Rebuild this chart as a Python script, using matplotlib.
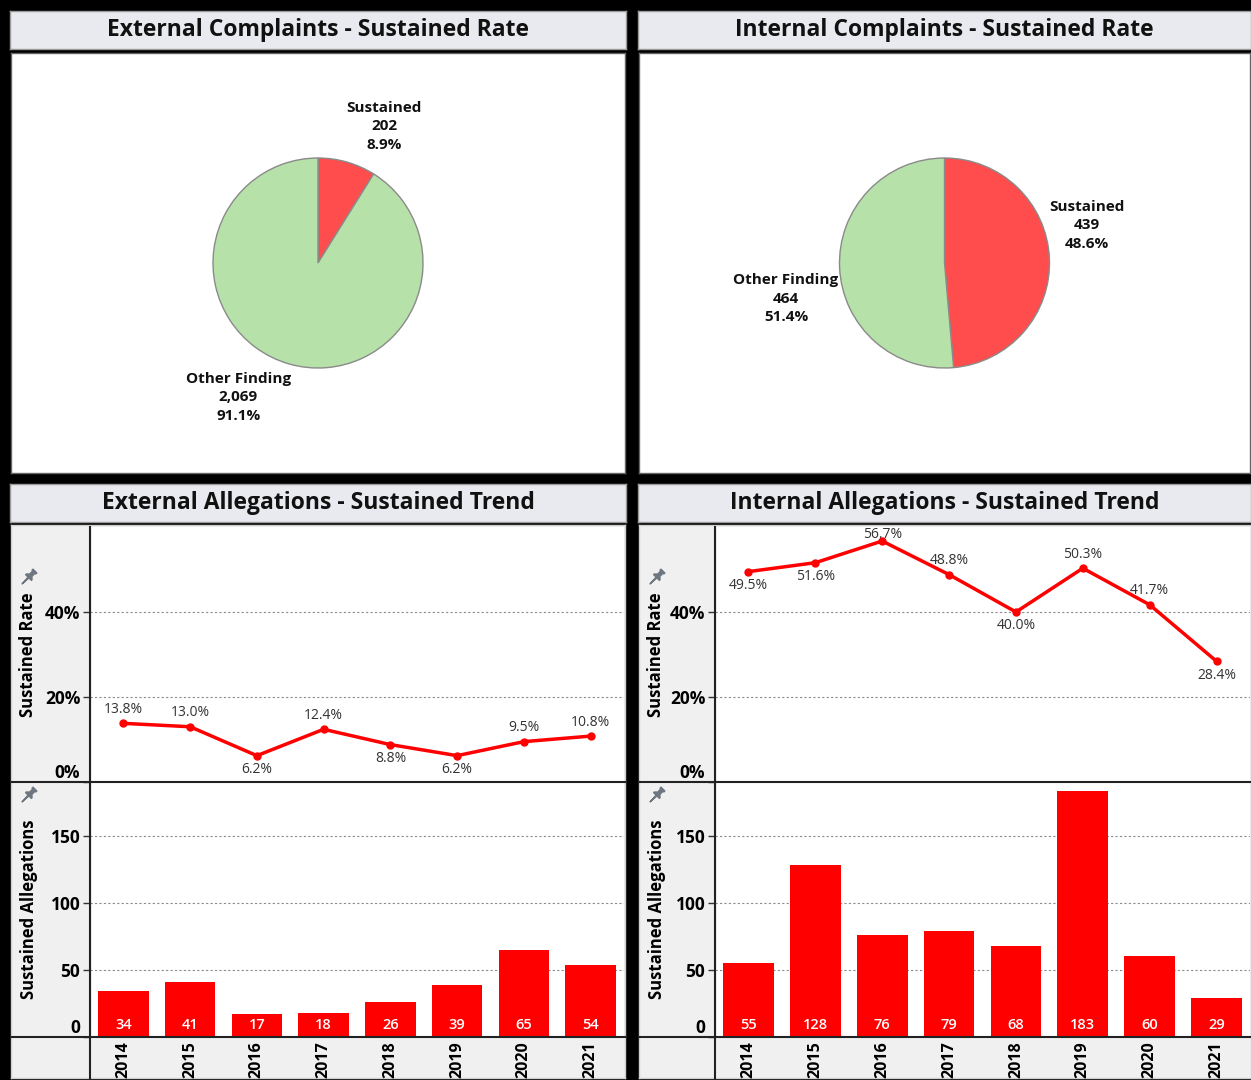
import numpy as np
import matplotlib
matplotlib.use("Agg")
import matplotlib.pyplot as plt
from matplotlib.path import Path
from matplotlib.transforms import Affine2D
from matplotlib.lines import Line2D

plt.rcParams['font.family'] = ['Open Sans', 'DejaVu Sans']

# ---- data ----
years = ['2014', '2015', '2016', '2017', '2018', '2019', '2020', '2021']

ext_rate     = [13.8, 13.0, 6.2, 12.4, 8.8, 6.2, 9.5, 10.8]
ext_rate_pos = ['above', 'above', 'below', 'above', 'below', 'below', 'above', 'above']
ext_count    = [34, 41, 17, 18, 26, 39, 65, 54]

int_rate     = [49.5, 51.6, 56.7, 48.8, 40.0, 50.3, 41.7, 28.4]
int_rate_pos = ['below', 'below', 'above', 'above', 'below', 'above', 'above', 'below']
int_count    = [55, 128, 76, 79, 68, 183, 60, 29]

pie_names  = ['Sustained', 'Other Finding']
ext_pie    = [202, 2069]
int_pie    = [439, 464]

RED   = '#ff0000'
PRED  = '#ff4c4c'
PGRN  = '#b6e1a9'
GRAY  = '#f0f0f0'
TBAR  = '#e9eaef'

W, H = 1251, 1080
fig = plt.figure(figsize=(W / 100, H / 100), dpi=100, facecolor='black')


def px_axes(x0, y0, x1, y1):
    # axes placed by pixel box, y measured from the top
    return fig.add_axes([x0 / W, 1 - y1 / H, (x1 - x0) / W, (y1 - y0) / H])


def bare(ax, edge='#9a9a9a'):
    ax.set_xticks([])
    ax.set_yticks([])
    for s in ax.spines.values():
        s.set_color(edge)
        s.set_linewidth(1)


def hline(x0, x1, y, color='#222222', lw=1.5):
    fig.add_artist(Line2D([x0 / W, x1 / W], [1 - y / H] * 2,
                          transform=fig.transFigure, color=color, lw=lw))


def vline(x, y0, y1, color='#222222', lw=1.5):
    fig.add_artist(Line2D([x / W] * 2, [1 - y0 / H, 1 - y1 / H],
                          transform=fig.transFigure, color=color, lw=lw))


def title_bar(x0, x1, y0, y1, text):
    ax = px_axes(x0, y0, x1, y1)
    ax.set_facecolor(TBAR)
    bare(ax)
    ax.text(0.5, 0.5, text, transform=ax.transAxes, ha='center', va='center',
            fontsize=16.5, fontweight='bold', color='#111111')


def pie_panel(x0, x1, values, label_xy):
    panel = px_axes(x0, 53, x1, 473)
    panel.set_facecolor('white')
    bare(panel, '#666666')
    cx, cy, r = (x0 + x1) / 2, 263, 105
    ax = px_axes(cx - 2 * r, cy - 2 * r, cx + 2 * r, cy + 2 * r)
    ax.pie(values, colors=[PRED, PGRN], startangle=90, counterclock=False,
           radius=1, wedgeprops=dict(edgecolor='#8a8a8a', linewidth=1))
    ax.set_xlim(-2, 2)
    ax.set_ylim(-2, 2)
    ax.set_axis_off()
    total = sum(values)
    for name, v, (lx, ly) in zip(pie_names, values, label_xy):
        ax.text(lx, ly, f'{name}\n{v:,}\n{100 * v / total:.1f}%',
                ha='center', va='center', fontsize=11, fontweight='bold',
                linespacing=1.4, color='#111111')


# pushpin glyph for the axis columns
pin_verts = [(-0.30, 1.0), (0.30, 1.0), (0.30, 0.85), (0.18, 0.85), (0.18, 0.35),
             (0.45, 0.10), (0.45, 0.0), (0.06, 0.0), (0.0, -1.0), (-0.06, 0.0),
             (-0.45, 0.0), (-0.45, 0.10), (-0.18, 0.35), (-0.18, 0.85),
             (-0.30, 0.85), (-0.30, 1.0)]
pin_path = Affine2D().rotate_deg(-45).transform_path(Path(pin_verts, closed=True))

line_labels = []


def trend_panel(x0, split, x1, rates, pos, counts):
    bg = px_axes(x0, 525, x1, 1078)
    bg.set_facecolor(GRAY)
    bare(bg, '#d0d0d0')

    x = np.arange(len(years))
    pw = x1 - 1 - split

    # sustained rate line
    lax = px_axes(split, 527, x1 - 1, 782)
    lax.set_facecolor('white')
    lax.plot(x, rates, color=RED, lw=2.5, marker='o', ms=5, zorder=3)
    lax.set_xlim(-0.5, len(years) - 0.5)
    lax.set_ylim(0, 60)
    lax.set_xticks([])
    lax.set_yticks([0, 20, 40])
    lax.set_yticklabels(['0%', '20%', '40%'], fontweight='bold', fontsize=12.5)
    lax.get_yticklabels()[0].set_va('bottom')
    lax.yaxis.grid(True, ls=(0, (2, 2)), color='#8c8c8c', lw=0.8)
    lax.tick_params(axis='y', length=5, width=1, color='#333333', pad=2)
    for s in ['top', 'right']:
        lax.spines[s].set_visible(False)
    lax.spines['left'].set_color('#333333')
    lax.spines['bottom'].set_visible(False)
    lax.set_ylabel('Sustained Rate', fontsize=12, fontweight='bold')
    lax.yaxis.set_label_coords((x0 + 26 - split) / pw, 0.5)
    for i, (v, p) in enumerate(zip(rates, pos)):
        oy = 10 if p == 'above' else -10
        t = lax.annotate(f'{v:.1f}%', (i, v), xytext=(0, oy),
                         textcoords='offset points', ha='center', va='center',
                         fontsize=10, color='#333333', zorder=4)
        line_labels.append((t, lax))

    # sustained allegation counts
    bax = px_axes(split, 782, x1 - 1, 1037)
    bax.set_facecolor('white')
    bax.set_axisbelow(True)
    bax.bar(x, counts, width=0.76, color=RED)
    bax.set_xlim(-0.5, len(years) - 0.5)
    bax.set_ylim(0, 190)
    bax.set_yticks([0, 50, 100, 150])
    bax.set_yticklabels(['0', '50', '100', '150'], fontweight='bold', fontsize=12.5)
    bax.get_yticklabels()[0].set_va('bottom')
    bax.yaxis.grid(True, ls=(0, (2, 2)), color='#8c8c8c', lw=0.8)
    bax.tick_params(axis='y', length=5, width=1, color='#333333', pad=2)
    bax.set_xticks(x)
    bax.set_xticklabels(years, rotation=90, fontweight='bold', fontsize=11.5)
    bax.tick_params(axis='x', length=0, pad=3)
    for s in ['top', 'right', 'bottom']:
        bax.spines[s].set_visible(False)
    bax.spines['left'].set_color('#333333')
    bax.set_ylabel('Sustained Allegations', fontsize=12, fontweight='bold')
    bax.yaxis.set_label_coords((x0 + 27 - split) / pw, 0.5)
    for i, c in enumerate(counts):
        bax.annotate(str(c), (i, 0), xytext=(0, 8.6), textcoords='offset points',
                     ha='center', va='center', color='white', fontsize=10.5,
                     fontweight='semibold')

    hline(x0 + 1, x1, 782)
    hline(x0 + 1, x1, 1037)
    vline(split, 527, 1078)

    for py in (577, 795):
        bg.plot([(x0 + 17) / W], [1 - py / H], marker=pin_path, ms=12,
                color='#6e7681', transform=fig.transFigure, clip_on=False)


title_bar(10, 626, 11, 49, 'External Complaints - Sustained Rate')
title_bar(638, 1251, 11, 49, 'Internal Complaints - Sustained Rate')
pie_panel(11, 625, ext_pie, [(0.63, 1.30), (-0.76, -1.28)])
pie_panel(639, 1250, int_pie, [(1.36, 0.36), (-1.51, -0.34)])

title_bar(10, 626, 484, 522, 'External Allegations - Sustained Trend')
title_bar(638, 1251, 484, 522, 'Internal Allegations - Sustained Trend')
trend_panel(11, 90, 625, ext_rate, ext_rate_pos, ext_count)
trend_panel(639, 715, 1251, int_rate, int_rate_pos, int_count)

# keep point labels inside their plot area
fig.canvas.draw()
rend = fig.canvas.get_renderer()
for t, ax in line_labels:
    bb = t.get_window_extent(rend)
    ab = ax.get_window_extent(rend)
    dx = max(0, ab.x0 - bb.x0) - max(0, bb.x1 - ab.x1)
    dy = max(0, ab.y0 - bb.y0) - max(0, bb.y1 - ab.y1)
    if dx or dy:
        ox, oy = t.xyann
        t.xyann = (ox + dx * 72 / 100, oy + dy * 72 / 100)

fig.savefig('out.png', dpi=100, facecolor='black')
